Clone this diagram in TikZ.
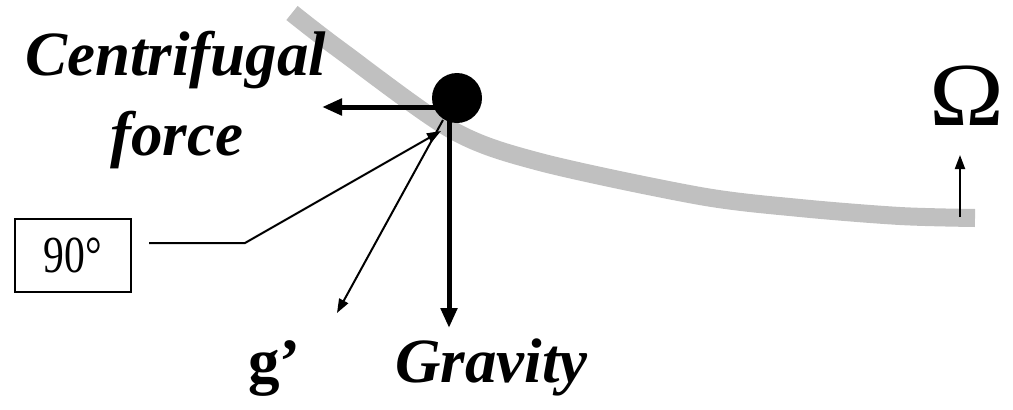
\documentclass[tikz,border=0pt]{standalone}
\usepackage{fontspec}
\setmainfont{Liberation Serif}
\usepackage{xcolor}
\usetikzlibrary{arrows.meta,positioning}
\definecolor{railgray}{RGB}{192,192,192}
\begin{document}
\begin{tikzpicture}[
    x=1pt, y=-1pt,
    force/.style={-{Triangle[length=20pt,width=16pt]}, line width=5pt},
    thinarrow/.style={-{Triangle[length=14pt,width=10pt]}, line width=2pt},
    bigtext/.style={font=\fontsize{63}{63}\selectfont\bfseries\itshape, inner sep=0pt, anchor=base west}
]
    \useasboundingbox (0,0) rectangle (1013,410);

    % curved rail
    \draw[line width=18pt, railgray] plot[smooth] coordinates
        {(292,13) (340,50) (452,130) (540,162) (700,196) (800,208) (900,216) (975,218)};

    \node[circle, fill=black, minimum size=50pt, inner sep=0pt] (ball) at (457,98) {};

    \coordinate (cftip) at (322,107);
    \coordinate (gtip) at (449,328);
    \coordinate (gpbase) at (443,120);
    \coordinate (gptip) at (337,313);
    \coordinate (apex) at (441,131);
    \coordinate (kink) at (245,243);
    \coordinate (wbase) at (960,217);
    \coordinate (wtip) at (960,155);

    \draw[force] (ball.center |- cftip) -- (cftip);
    \draw[force] (gtip |- ball.center) -- (gtip);
    \draw[thinarrow] (gpbase) -- (gptip);

    \node[draw, line width=2pt, minimum width=116pt, minimum height=73pt, inner sep=0pt,
          font=\fontsize{52}{52}\selectfont] (angle) at (73,255) {\scalebox{0.8}[1]{90°}};
    \draw[thinarrow] ([xshift=17pt]angle.east |- kink) -- (kink) -- (apex);

    \node[bigtext] (cf1) at (25,75) {Centrifugal};
    \node[bigtext] (cf2) at (110,155) {force};
    \node[bigtext, font=\fontsize{63}{63}\selectfont\bfseries] (gprime) at (248,382) {g’};
    \node[bigtext] (grav) at (395,382) {Gravity};

    \node[inner sep=0pt, anchor=base, font=\fontsize{90}{90}\selectfont] (omega) at (967,125) {\scalebox{1.12}[1]{Ω}};
    \draw[thinarrow] (wbase) -- (wtip);
\end{tikzpicture}
\end{document}
